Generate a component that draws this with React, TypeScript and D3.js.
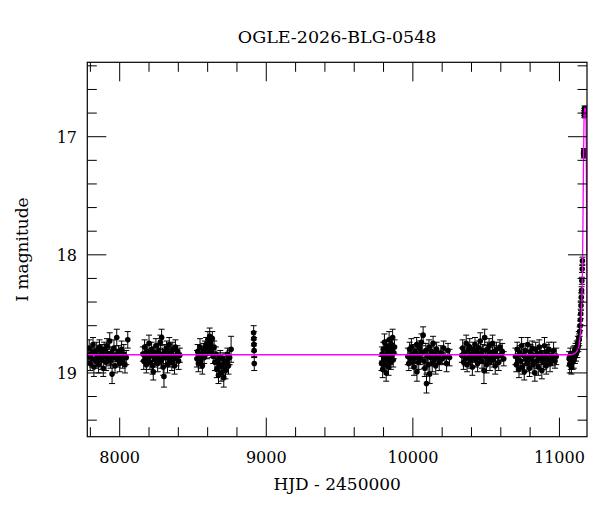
import React, { useEffect } from 'react';
import * as d3 from 'd3';

// photometry [HJD-2450000, I mag, error], one array per observing season
const season1 = [[7786,18.86,.06],[7792,18.79,.07],[7799,18.92,.06],[7805,18.84,.05],[7811,18.88,.07],[7818,18.76,.06],[7824,18.95,.08],[7830,18.83,.05],[7837,18.90,.06],[7843,18.81,.07],[7850,18.87,.05],[7856,18.93,.07],[7862,18.78,.06],[7869,18.85,.05],[7875,18.89,.08],[7881,18.82,.06],[7888,18.96,.07],[7894,18.80,.06],[7900,18.86,.05],[7907,18.91,.07],[7913,18.77,.06],[7919,18.84,.05],[7926,18.88,.06],[7932,18.73,.07],[7938,18.90,.06],[7945,18.83,.05],[7948,19.01,.08],[7955,18.87,.06],[7961,18.79,.07],[7968,18.94,.06],[7974,18.85,.05],[7980,18.70,.07],[7987,18.89,.06],[7993,18.82,.05],[8000,18.92,.07],[8006,18.86,.06],[8013,18.80,.07],[8020,18.90,.06],[8028,18.84,.08],[8036,18.93,.07],[8045,18.87,.06],[8055,18.72,.07]];
const season2 = [[8158,18.84,.06],[8164,18.90,.07],[8170,18.78,.06],[8176,18.87,.05],[8182,18.93,.07],[8188,18.82,.06],[8194,18.88,.05],[8200,18.75,.07],[8206,18.91,.06],[8212,18.85,.05],[8218,18.80,.06],[8224,18.94,.07],[8229,18.99,.07],[8235,18.83,.05],[8241,18.89,.06],[8247,18.77,.06],[8253,18.86,.05],[8259,18.92,.07],[8265,18.81,.06],[8271,18.88,.05],[8277,18.74,.06],[8283,18.90,.06],[8286,18.70,.07],[8292,18.84,.05],[8297,18.95,.07],[8302,19.03,.09],[8308,18.82,.06],[8314,18.87,.05],[8320,18.79,.06],[8326,18.93,.07],[8332,18.85,.05],[8338,18.76,.06],[8344,18.89,.06],[8350,18.83,.05],[8356,18.91,.07],[8362,18.80,.06],[8368,18.86,.05],[8374,18.94,.07],[8380,18.78,.06],[8387,18.88,.06],[8394,18.82,.05],[8402,18.90,.07],[8410,18.85,.06]];
const season3 = [[8527,18.88,.07],[8532,18.82,.06],[8537,18.92,.07],[8542,18.86,.06],[8548,18.78,.07],[8553,18.90,.06],[8558,18.84,.05],[8564,18.94,.07],[8570,18.81,.06],[8576,18.87,.05],[8582,18.79,.06],[8590,18.76,.06],[8596,18.83,.05],[8602,18.72,.07],[8608,18.79,.06],[8614,18.69,.07],[8620,18.75,.06],[8626,18.82,.05],[8632,18.71,.06],[8638,18.86,.06],[8644,18.78,.05],[8650,18.91,.07],[8656,18.84,.06],[8662,18.97,.07],[8668,18.89,.06],[8674,19.02,.07],[8680,18.93,.06],[8686,18.86,.05],[8692,19.00,.07],[8698,18.95,.06],[8704,18.88,.05],[8710,19.04,.08],[8716,18.92,.06],[8722,18.98,.07],[8728,18.90,.06],[8735,18.84,.05],[8742,18.94,.07],[8750,18.87,.06],[8760,18.80,.11]];
const season4 = [[8914,18.66,.06],[8915,18.71,.06],[8916,18.76,.06],[8917,18.81,.06],[8918,18.92,.06]];
const season5 = [[9786,18.92,.06],[9790,18.84,.06],[9794,18.97,.07],[9798,18.80,.06],[9802,18.88,.05],[9806,18.74,.07],[9810,18.93,.06],[9814,18.85,.05],[9818,19.00,.07],[9822,18.78,.06],[9826,18.89,.05],[9830,18.82,.06],[9834,18.95,.07],[9838,18.72,.07],[9842,18.87,.06],[9846,18.80,.05],[9850,18.91,.06],[9854,18.76,.06],[9858,18.85,.05],[9862,18.70,.07],[9866,18.89,.06],[9870,18.83,.05],[9875,18.78,.06]];
const season6 = [[9966,18.86,.07],[9972,18.92,.06],[9978,18.80,.06],[9984,18.88,.05],[9990,18.78,.07],[9996,18.90,.06],[10002,18.84,.05],[10008,18.95,.07],[10014,18.82,.06],[10020,18.87,.05],[10026,18.76,.06],[10028,18.99,.08],[10034,18.85,.05],[10040,18.91,.06],[10046,18.79,.06],[10052,18.88,.05],[10058,18.74,.07],[10064,18.83,.06],[10070,18.68,.07],[10076,18.90,.06],[10082,18.96,.07],[10088,18.81,.06],[10093,19.09,.08],[10098,18.86,.05],[10104,18.93,.07],[10110,18.78,.06],[10115,19.01,.08],[10120,18.87,.06],[10126,18.82,.05],[10132,18.92,.07],[10138,18.75,.06],[10144,18.89,.05],[10150,18.84,.06],[10156,18.94,.07],[10162,18.80,.06],[10170,18.87,.05],[10180,18.91,.07],[10190,18.83,.06],[10200,18.88,.05],[10210,18.79,.06],[10220,18.86,.06],[10230,18.92,.07],[10240,18.81,.06],[10250,18.87,.07]];
const season7 = [[10334,18.85,.06],[10340,18.79,.07],[10346,18.91,.06],[10352,18.83,.05],[10358,18.88,.06],[10364,18.75,.07],[10370,18.93,.06],[10376,18.81,.05],[10382,18.87,.06],[10388,18.78,.07],[10394,18.90,.06],[10400,18.84,.05],[10406,18.95,.07],[10412,18.80,.06],[10418,18.86,.05],[10424,18.76,.06],[10430,18.89,.06],[10436,18.82,.05],[10442,18.92,.07],[10448,18.79,.06],[10454,18.87,.05],[10460,18.73,.07],[10466,18.84,.06],[10472,18.90,.06],[10478,18.81,.05],[10485,18.98,.11],[10490,18.70,.07],[10496,18.86,.06],[10502,18.93,.07],[10508,18.80,.06],[10514,18.88,.05],[10520,18.77,.06],[10526,18.91,.07],[10532,18.83,.05],[10538,18.87,.06],[10544,18.75,.07],[10550,18.89,.06],[10556,18.82,.05],[10562,18.94,.07],[10570,18.80,.06],[10578,18.86,.05],[10586,18.91,.07],[10594,18.78,.06],[10602,18.85,.05],[10610,18.82,.07],[10620,18.88,.06]];
const season8 = [[10700,18.86,.07],[10706,18.93,.06],[10712,18.80,.06],[10718,18.89,.05],[10724,18.97,.07],[10730,18.83,.06],[10736,18.90,.05],[10742,18.77,.07],[10748,18.95,.06],[10754,18.85,.05],[10760,18.99,.07],[10766,18.81,.06],[10772,18.88,.05],[10778,18.92,.07],[10784,18.76,.06],[10790,18.87,.05],[10796,18.96,.07],[10802,18.82,.06],[10808,18.89,.05],[10814,18.79,.06],[10820,18.93,.07],[10826,18.85,.05],[10832,19.00,.07],[10838,18.80,.06],[10844,18.90,.06],[10850,18.84,.05],[10856,18.95,.07],[10862,18.78,.06],[10868,18.88,.05],[10874,18.83,.06],[10880,18.98,.07],[10886,18.86,.05],[10892,18.91,.06],[10898,18.77,.07],[10904,18.87,.05],[10910,18.94,.07],[10916,18.82,.06],[10922,18.89,.05],[10928,18.80,.06],[10936,18.92,.07],[10944,18.85,.05],[10952,18.88,.06],[10960,18.81,.07],[10970,18.90,.06],[10978,18.86,.07]];
const season9 = [[11066,18.88,.06],[11070,18.93,.07],[11074,18.85,.06],[11078,18.90,.07],[11082,18.95,.06],[11086,18.87,.05],[11090,18.91,.06],[11094,18.84,.06],[11098,18.89,.07],[11102,18.82,.05],[11106,18.86,.06],[11110,18.80,.05],[11114,18.84,.06],[11118,18.78,.05],[11122,18.81,.06],[11126,18.74,.05],[11129,18.77,.05],[11132,18.70,.05],[11135,18.72,.05],[11138,18.65,.04],[11141,18.60,.04],[11143,18.55,.04],[11145,18.50,.04],[11147,18.43,.04],[11149,18.36,.04],[11151,18.30,.03],[11153,18.22,.03],[11155,18.12,.03],[11157,18.05,.03],[11166,17.16,.02],[11166.5,17.12,.02],[11167,17.14,.02],[11170,16.82,.02],[11170.5,16.78,.02],[11171,16.80,.02],[11171.5,16.76,.02]];

// model light curve [HJD-2450000, I mag]
const model = [[7770,18.846],[11080,18.846],[11110,18.83],[11125,18.80],[11135,18.76],[11140,18.70],[11147,18.60],[11152,18.41],[11156,18.20],[11158,18.02],[11161,17.65],[11163,17.38],[11165,17.12],[11167,16.92],[11169,16.80],[11172,16.76],[11176,16.76],[11180,16.80],[11183,17.10],[11185,17.60],[11186.5,18.20],[11188,18.70]];

const xMajorTicks = [8000, 9000, 10000, 11000];
const xMinorTicks = [7800, 8200, 8400, 8600, 8800, 9200, 9400, 9600, 9800, 10200, 10400, 10600, 10800];
const yMajorTicks = [17, 18, 19];
const yMinorTicks = [16.4, 16.6, 16.8, 17.2, 17.4, 17.6, 17.8, 18.2, 18.4, 18.6, 18.8, 19.2, 19.4];

const title = 'OGLE-2026-BLG-0548';
const xTitle = 'HJD - 2450000';
const yTitle = 'I magnitude';

export default function App() {
  useEffect(() => {
    document.body.style.margin = '0';
  }, []);

  const left = 87.3, right = 587, top = 62.3, bottom = 436.7;
  const x = d3.scaleLinear().domain([7779, 11188]).range([left, right]);
  const y = d3.scaleLinear().domain([16.37, 19.54]).range([top, bottom]);
  const font = '"DejaVu Serif", serif';
  const majorLen = 19, minorLen = 9.5;

  const points = [season1, season2, season3, season4, season5, season6, season7, season8, season9].flat();
  const line = d3.line<number[]>().x(d => x(d[0])).y(d => y(d[1])).curve(d3.curveMonotoneX);

  const tickLines: React.ReactNode[] = [];
  const addX = (v: number, len: number, k: string) => {
    const px = x(v);
    tickLines.push(<line key={'b' + k} x1={px} x2={px} y1={bottom} y2={bottom - len} />);
    tickLines.push(<line key={'t' + k} x1={px} x2={px} y1={top} y2={top + len} />);
  };
  const addY = (v: number, len: number, k: string) => {
    const py = y(v);
    tickLines.push(<line key={'l' + k} x1={left} x2={left + len} y1={py} y2={py} />);
    tickLines.push(<line key={'r' + k} x1={right} x2={right - len} y1={py} y2={py} />);
  };
  xMajorTicks.forEach(v => addX(v, majorLen, 'M' + v));
  xMinorTicks.forEach(v => addX(v, minorLen, 'm' + v));
  yMajorTicks.forEach(v => addY(v, majorLen, 'M' + v));
  yMinorTicks.forEach(v => addY(v, minorLen, 'm' + v));

  return (
    <svg width={600} height={512} style={{ display: 'block', background: '#fff' }} fontFamily={font}>
      <defs>
        <clipPath id="plotArea">
          <rect x={left} y={top} width={right - left} height={bottom - top} />
        </clipPath>
      </defs>
      <text x={(left + right) / 2} y={43} textAnchor="middle" fontSize={17.5}>{title}</text>

      <g clipPath="url(#plotArea)">
        <g stroke="#000" strokeWidth={1}>
          {points.map((d, i) => {
            const px = x(d[0]);
            const y1 = y(d[1] - d[2]), y2 = y(d[1] + d[2]);
            return (
              <g key={i}>
                <line x1={px} x2={px} y1={y1} y2={y2} />
                <line x1={px - 3} x2={px + 3} y1={y1} y2={y1} />
                <line x1={px - 3} x2={px + 3} y1={y2} y2={y2} />
              </g>
            );
          })}
        </g>
        <g fill="#000">
          {points.map((d, i) => (
            <circle key={i} cx={x(d[0])} cy={y(d[1])} r={2.8} />
          ))}
        </g>
        <path d={line(model) || ''} fill="none" stroke="#ff00ff" strokeWidth={1.3} />
      </g>

      <g stroke="#000" strokeWidth={1}>{tickLines}</g>
      <rect x={left} y={top} width={right - left} height={bottom - top} fill="none" stroke="#000" strokeWidth={1.2} />

      <g fontSize={16}>
        {xMajorTicks.map(v => (
          <text key={v} x={x(v)} y={463} textAnchor="middle">{v}</text>
        ))}
        {yMajorTicks.map(v => (
          <text key={v} x={77} y={y(v) + 6} textAnchor="end">{v}</text>
        ))}
      </g>
      <text x={(left + right) / 2} y={490} textAnchor="middle" fontSize={17}>{xTitle}</text>
      <text transform={`translate(28,${(top + bottom) / 2}) rotate(-90)`} textAnchor="middle" fontSize={17}>{yTitle}</text>
    </svg>
  );
}
